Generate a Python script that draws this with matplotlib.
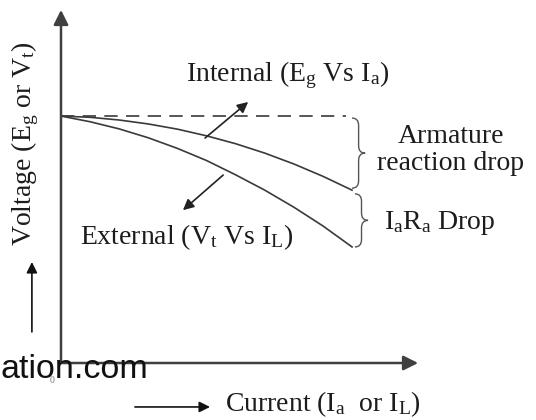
import numpy as np
import matplotlib
matplotlib.use("Agg")
import matplotlib.pyplot as plt
from matplotlib.path import Path
from matplotlib.patches import PathPatch

plt.rcParams['mathtext.fontset'] = 'custom'
plt.rcParams['mathtext.rm'] = 'Liberation Serif'
plt.rcParams['mathtext.it'] = 'Liberation Serif:italic'

current = [0, 1, 2, 3, 4, 5, 6, 7, 8, 9, 10]
internal_eg = [10.0, 9.95, 9.84, 9.68, 9.47, 9.20, 8.88, 8.50, 8.06, 7.56, 7.00]
external_vt = [10.0, 9.77, 9.48, 9.12, 8.69, 8.20, 7.62, 7.00, 6.31, 5.55, 4.70]
no_load_emf = 10.0
no_load_len = 9.8

SERIF = 'Liberation Serif'
TXT = '#1c1c1c'
LINE = '#3a3a3a'


def brace(ax, x0, ytop, ybot, w, r, **kw):
    # right-pointing curly brace between ytop and ybot
    xm = x0 + w / 2
    ymid = (ytop + ybot) / 2
    verts = [(x0, ytop), (xm, ytop), (xm, ytop - r),
             (xm, ymid + r),
             (xm, ymid), (x0 + w, ymid),
             (xm, ymid), (xm, ymid - r),
             (xm, ybot + r),
             (xm, ybot), (x0, ybot)]
    codes = [Path.MOVETO, Path.CURVE3, Path.CURVE3,
             Path.LINETO,
             Path.CURVE3, Path.CURVE3,
             Path.CURVE3, Path.CURVE3,
             Path.LINETO,
             Path.CURVE3, Path.CURVE3]
    ax.add_patch(PathPatch(Path(verts, codes), fill=False, **kw))


fig = plt.figure(figsize=(5.36, 4.2), dpi=100)
ax = fig.add_axes([0, 0, 1, 1])
ax.set_xlim(-2.096, 16.32)
ax.set_ylim(-2.308, 14.70)
ax.axis('off')

# axes with arrows
axis_kw = dict(arrowstyle='-|>', mutation_scale=22, lw=1.8, color='#404040',
               shrinkA=0, shrinkB=0)
ax.annotate('', xy=(0, 14.3), xytext=(0, 0), arrowprops=axis_kw)
ax.annotate('', xy=(12.27, 0), xytext=(0, 0), arrowprops=axis_kw)
ax.text(-0.31, -0.69, '0', fontsize=7, color='#777777', family=SERIF,
        ha='center', va='center')

# characteristics
ax.plot([0, no_load_len], [no_load_emf, no_load_emf], color=LINE, lw=1.2,
        dashes=(8, 5))
ax.plot(current, internal_eg, color=LINE, lw=1.2)
ax.plot(current, external_vt, color=LINE, lw=1.2)

# drop braces
brace(ax, current[-1] + 0.0, no_load_emf - 0.08, internal_eg[-1] + 0.08,
      0.45, 0.3, color='#555555', lw=1.0)
brace(ax, current[-1] + 0.1, internal_eg[-1] - 0.15, external_vt[-1],
      0.45, 0.3, color='#555555', lw=1.0)

# labels and pointer arrows
ptr = dict(arrowstyle='-|>', mutation_scale=16, lw=1.2, color='#222222',
           shrinkA=0, shrinkB=0)
ax.annotate('', xy=(6.43, 10.57), xytext=(4.95, 9.11), arrowprops=ptr)
ax.annotate('', xy=(4.19, 6.19), xytext=(5.57, 7.61), arrowprops=ptr)

fs = 20
ax.text(7.8, 11.66, r'Internal ($\mathrm{E_g}$ Vs $\mathrm{I_a}$)', fontsize=fs,
        family=SERIF, color=TXT, ha='center', va='center')
ax.text(4.3, 5.1, r'External ($\mathrm{V_t}$ Vs $\mathrm{I_L}$)', fontsize=fs,
        family=SERIF, color=TXT, ha='center', va='center')
ax.text(13.4, 9.18, 'Armature', fontsize=fs, family=SERIF, color=TXT,
        ha='center', va='center')
ax.text(13.4, 8.07, 'reaction drop', fontsize=fs, family=SERIF, color=TXT,
        ha='center', va='center')
ax.text(13.0, 5.67, r'$\mathrm{I_a R_a}$ Drop', fontsize=fs, family=SERIF,
        color=TXT, ha='center', va='center')

ax.text(-1.24, 8.9, r'Voltage ($\mathrm{E_g}$ or $\mathrm{V_t}$)', fontsize=fs,
        family=SERIF, color=TXT, ha='center', va='center', rotation=90)
ax.annotate('', xy=(-1.0, 4.09), xytext=(-1.0, 1.26),
            arrowprops=dict(arrowstyle='-|>', mutation_scale=16, lw=1.2,
                            color='#111111', shrinkA=0, shrinkB=0))

ax.annotate('', xy=(5.12, -1.78), xytext=(2.54, -1.78),
            arrowprops=dict(arrowstyle='-|>', mutation_scale=16, lw=1.2,
                            color='#111111', shrinkA=0, shrinkB=0))
ax.text(5.64, -1.94, r'Current ($\mathrm{I_a}$  or $\mathrm{I_L}$)', fontsize=fs,
        family=SERIF, color=TXT, ha='left', va='baseline')

# watermark fragment
ax.text(-2.096, -0.28, 'ation.com', fontsize=24.5, family='Liberation Sans',
        color='#111111', ha='left', va='center')

fig.savefig('out.png', dpi=100)
